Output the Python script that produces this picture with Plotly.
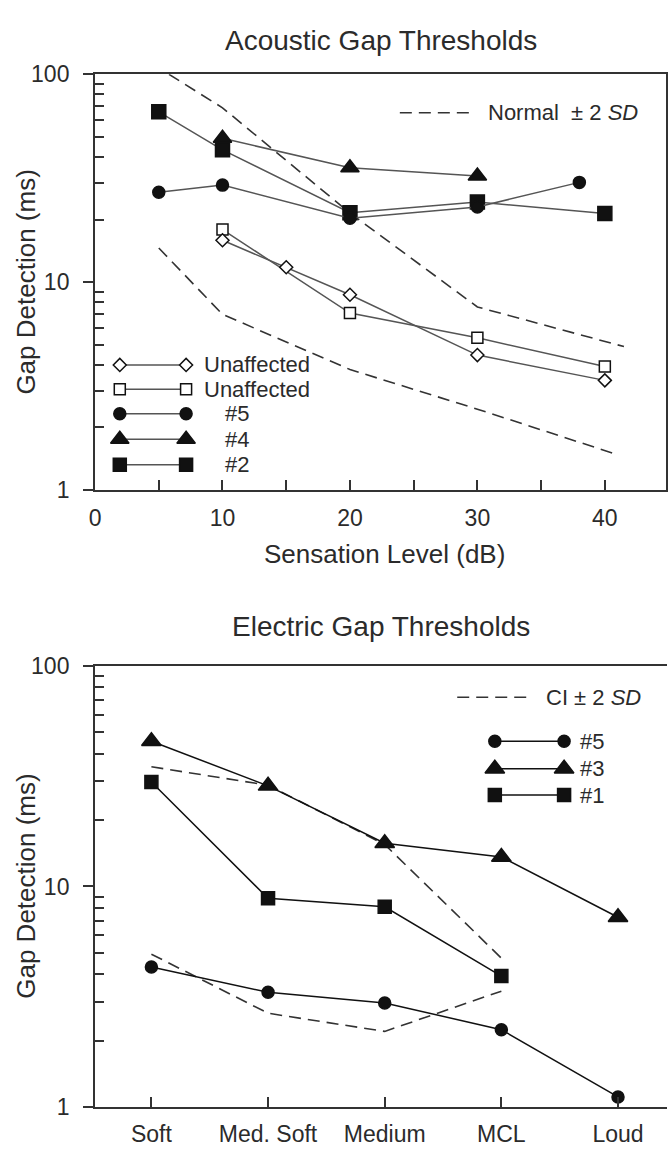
import plotly.graph_objects as go

W, H = 668, 1159

# ---------------- data: Acoustic gap thresholds ----------------
unaff_d_x = [10, 15, 20, 30, 40]
unaff_d_y = [15.9, 11.8, 8.7, 4.46, 3.37]
unaff_s_x = [10, 20, 30, 40]
unaff_s_y = [17.9, 7.1, 5.4, 3.93]
ac_p5_x = [5, 10, 20, 30, 38]
ac_p5_y = [27.1, 29.3, 20.3, 23.0, 30.2]
ac_p4_x = [10, 20, 30]
ac_p4_y = [49.2, 35.5, 32.4]
ac_p2_x = [5, 10, 20, 30, 40]
ac_p2_y = [66, 43.3, 21.6, 24.3, 21.4]
normal_hi_x = [5.8, 10, 20, 30, 41.5]
normal_hi_y = [100, 69, 21.5, 7.6, 4.9]
normal_lo_x = [5, 10, 20, 30, 40.7]
normal_lo_y = [14.6, 7.0, 3.8, 2.45, 1.5]

# ---------------- data: Electric gap thresholds ----------------
levels = ["Soft", "Med. Soft", "Medium", "MCL", "Loud"]
el_p5_y = [4.31, 3.31, 2.96, 2.24, 1.11]
el_p3_y = [45.6, 28.6, 15.7, 13.6, 7.25]
el_p1_y = [29.8, 8.83, 8.09, 3.92]
ci_hi_y = [34.9, 28.8, 15.5, 4.73]
ci_lo_y = [4.93, 2.66, 2.2, 3.35]

log_ticks = [1, 10, 100]
log_minor = [2, 3, 4, 5, 6, 7, 8, 9, 20, 30, 40, 50, 60, 70, 80, 90]

FONT = "Liberation Sans, Arial, sans-serif"
TXT = "#2b2b2b"
AX = "#333333"
GRAY = "#555555"
DARK = "#111111"


def px(x):
    return min(1.0, max(0.0, x / W))


def py(y):
    return min(1.0, max(0.0, 1 - y / H))


fig = go.Figure()


def add(x, y, symbol, size, fill, line_color, xa, ya, width=1.5):
    fig.add_trace(go.Scatter(
        x=x, y=y, mode="lines+markers", xaxis=xa, yaxis=ya, showlegend=False,
        line=dict(color=line_color, width=width),
        marker=dict(symbol=symbol, size=size, color=fill,
                    line=dict(color=DARK, width=1.5)),
        cliponaxis=False))


def dashed(x, y, xa, ya):
    fig.add_trace(go.Scatter(
        x=x, y=y, mode="lines", xaxis=xa, yaxis=ya, showlegend=False,
        line=dict(color=AX, width=1.6, dash="12px,7px")))


SQ_F, SQ_O, CIRC, TRI, DIA = 14, 11, 12, 16, 10

# top panel
dashed(normal_hi_x, normal_hi_y, "x", "y")
dashed(normal_lo_x, normal_lo_y, "x", "y")
add(ac_p2_x, ac_p2_y, "square", SQ_F, DARK, GRAY, "x", "y")
add(ac_p4_x, ac_p4_y, "triangle-up", TRI, DARK, GRAY, "x", "y")
add(ac_p5_x, ac_p5_y, "circle", CIRC, DARK, GRAY, "x", "y")
add(unaff_s_x, unaff_s_y, "square", SQ_O, "white", GRAY, "x", "y")
add(unaff_d_x, unaff_d_y, "diamond", DIA, "white", GRAY, "x", "y")

# bottom panel
dashed(levels[:4], ci_hi_y, "x2", "y2")
dashed(levels[:4], ci_lo_y, "x2", "y2")
add(levels, el_p5_y, "circle", CIRC, DARK, DARK, "x2", "y2")
add(levels, el_p3_y, "triangle-up", TRI + 1, DARK, DARK, "x2", "y2")
add(levels[:4], el_p1_y, "square", SQ_F - 1, DARK, DARK, "x2", "y2")

# ---------------- legends (drawn on a pixel-frame overlay) ----------------
leg_rows_top = [
    ("diamond", DIA, "white", GRAY, "Unaffected", 360, 198),
    ("square", SQ_O, "white", GRAY, "Unaffected", 385, 198),
    ("circle", CIRC, DARK, GRAY, "#5", 410, 219),
    ("triangle-up", TRI, DARK, GRAY, "#4", 436, 219),
    ("square", SQ_F - 1, DARK, GRAY, "#2", 462, 219),
]
leg_rows_bot = [
    ("circle", CIRC, DARK, DARK, "#5", 745, 578),
    ("triangle-up", TRI + 1, DARK, DARK, "#3", 773, 578),
    ("square", SQ_F - 1, DARK, DARK, "#1", 800, 578),
]
LEGF = dict(size=22, color=TXT, family=FONT)
annotations = []
for sym, sz, fill, lc, label, yy, tx in leg_rows_top:
    add([115, 182], [yy, yy], sym, sz, fill, lc, "x3", "y3")
    annotations.append(dict(x=px(tx), y=py(yy), xref="paper", yref="paper",
                            text=label, showarrow=False, xanchor="left",
                            yanchor="middle", font=LEGF))
for sym, sz, fill, lc, label, yy, tx in leg_rows_bot:
    add([494, 564], [yy, yy], sym, sz, fill, lc, "x3", "y3")
    annotations.append(dict(x=px(tx), y=py(yy), xref="paper", yref="paper",
                            text=label, showarrow=False, xanchor="left",
                            yanchor="middle", font=LEGF))

dashed([398, 471], [102, 102], "x3", "y3")
dashed([456, 528], [700, 700], "x3", "y3")
annotations.append(dict(x=px(485), y=py(102), xref="paper", yref="paper",
                        text="Normal  ± 2 <i>SD</i>", showarrow=False, xanchor="left",
                        yanchor="middle", font=LEGF))
annotations.append(dict(x=px(544), y=py(700), xref="paper", yref="paper",
                        text="CI ± 2 <i>SD</i>", showarrow=False, xanchor="left",
                        yanchor="middle", font=LEGF))

TITLEF = dict(size=28, color=TXT, family=FONT)
AXTF = dict(size=26, color=TXT, family=FONT)
# titles
annotations.append(dict(x=px(379), y=py(28), xref="paper", yref="paper",
                        text="Acoustic Gap Thresholds", showarrow=False,
                        xanchor="center", yanchor="middle", font=TITLEF))
annotations.append(dict(x=px(379), y=py(628), xref="paper", yref="paper",
                        text="Electric Gap Thresholds", showarrow=False,
                        xanchor="center", yanchor="middle", font=TITLEF))
annotations.append(dict(x=px(383), y=py(553), xref="paper", yref="paper",
                        text="Sensation Level (dB)", showarrow=False,
                        xanchor="center", yanchor="middle", font=AXTF))
annotations.append(dict(x=px(20), y=py(275), xref="paper", yref="paper",
                        text="Gap Detection (ms)", showarrow=False, textangle=-90,
                        xanchor="center", yanchor="middle", font=AXTF))
annotations.append(dict(x=px(20), y=py(893), xref="paper", yref="paper",
                        text="Gap Detection (ms)", showarrow=False, textangle=-90,
                        xanchor="center", yanchor="middle", font=AXTF))

tickfont = dict(size=23, color=TXT, family=FONT)


def yaxis_cfg(top, bottom, right_line):
    return dict(
        type="log", range=[0, 2], domain=[py(bottom), py(top)],
        tickvals=log_ticks, ticktext=[str(v) for v in log_ticks],
        ticks="outside", ticklen=10, tickwidth=1.5, tickcolor=AX,
        minor=dict(tickvals=log_minor, ticks="inside", ticklen=9,
                   tickwidth=1.5, tickcolor=AX, showgrid=False),
        showline=True, linecolor=AX, linewidth=2, mirror=right_line,
        showgrid=False, zeroline=False, tickfont=tickfont,
        ticklabelstandoff=9, fixedrange=True)


fig.update_layout(
    width=W, height=H, margin=dict(l=0, r=0, t=0, b=0),
    paper_bgcolor="white", plot_bgcolor="rgba(0,0,0,0)", showlegend=False,
    font=dict(family=FONT, color=TXT),
    xaxis=dict(
        range=[0, 44.8], domain=[px(90), px(667)], anchor="y",
        tickvals=[0, 10, 20, 30, 40], ticks="inside", ticklen=10,
        tickwidth=1.5, tickcolor=AX,
        minor=dict(tickvals=[5, 15, 25, 35], ticks="inside", ticklen=10,
                   tickwidth=1.5, tickcolor=AX, showgrid=False),
        showline=True, linecolor=AX, linewidth=2, mirror=True,
        showgrid=False, zeroline=False, tickfont=tickfont,
        ticklabelstandoff=6, fixedrange=True),
    yaxis=dict(anchor="x", **yaxis_cfg(62.7, 488, True)),
    xaxis2=dict(
        type="category", categoryorder="array", categoryarray=levels,
        range=[-0.483, 4.42], domain=[px(90), 1.0], anchor="y2",
        ticks="inside", ticklen=10, tickwidth=1.5, tickcolor=AX,
        showline=True, linecolor=AX, linewidth=2, mirror=True,
        showgrid=False, zeroline=False, tickfont=tickfont,
        ticklabelstandoff=6, fixedrange=True),
    yaxis2=dict(anchor="x2", **yaxis_cfg(668, 1119, False)),
    xaxis3=dict(range=[0, W], domain=[0, 1], anchor="y3", visible=False,
                fixedrange=True),
    yaxis3=dict(range=[H, 0], domain=[0, 1], anchor="x3", visible=False,
                fixedrange=True),
    annotations=annotations,
)

fig.write_html("out.html", config={"displayModeBar": False},
               post_script="document.body.style.margin='0';document.body.style.padding='0';")
